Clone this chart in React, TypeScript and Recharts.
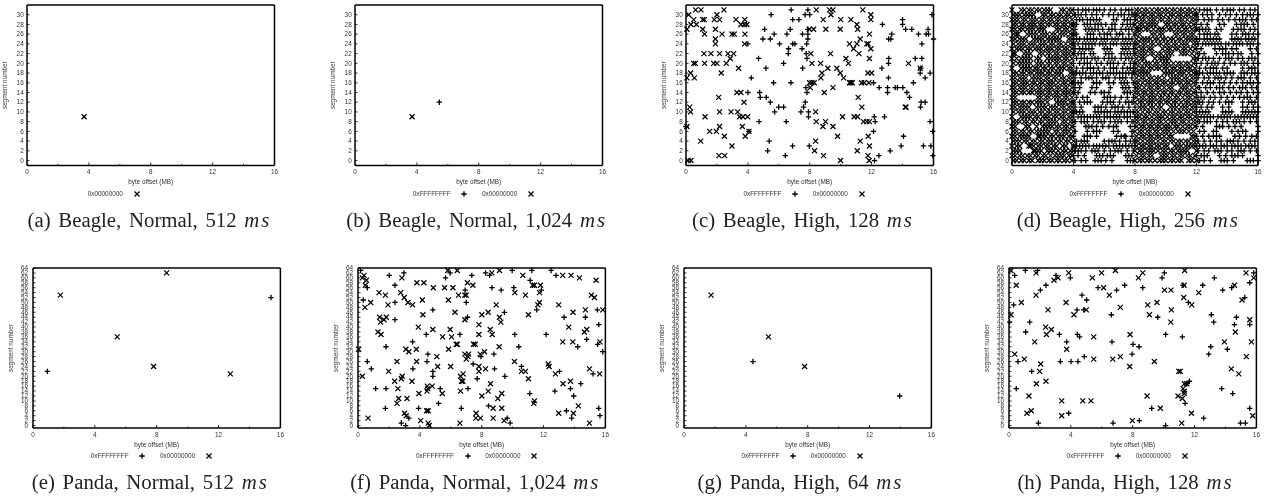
import * as React from 'react';
import { ScatterChart, Scatter, XAxis, YAxis } from 'recharts';

type Pair = [number, number];
type Row = [number, number[]];

const xMajor = [0, 4, 8, 12, 16];
const xTicks = [0, 2, 4, 6, 8, 10, 12, 14, 16];
const beagleTicks = [0, 2, 4, 6, 8, 10, 12, 14, 16, 18, 20, 22, 24, 26, 28, 30];
const pandaTicks = [0, 2, 4, 6, 8, 10, 12, 14, 16, 18, 20, 22, 24, 26, 28, 30, 32, 34, 36, 38, 40, 42, 44, 46, 48, 50, 52, 54, 56, 58, 60, 62, 64];

const aCross: Pair[] = [[3.69, 9]];
const bPlus: Pair[] = [[5.45, 12]];
const bCross: Pair[] = [[3.69, 9]];

// segment number, byte offsets (MB)
const cCross: Row[] = [
  [31, [0.62, 0.97, 2.45, 8.42, 9.28, 9.5, 11.43]],
  [30, [0.17, 2.0, 9.37, 11.95]],
  [29, [0.5, 1.08, 1.18, 1.83, 2.17, 3.23, 3.8, 8.87, 10, 10.66, 11.95]],
  [28, [0.32, 0.67, 3.55, 3.77, 3.94, 11.05]],
  [27, [0.06, 1.08, 1.9, 7.97, 8.25, 9.04, 9.97, 11.1]],
  [26, [1.2, 2.33, 2.97, 3.12, 3.81, 11.86]],
  [25, [1.9, 11.26]],
  [24, [1.9, 3.79, 10.57, 11.05, 11.69, 11.78]],
  [23, [10.83, 11.95]],
  [22, [1.16, 1.61, 2.17, 2.71, 3.08, 8.07, 9.34, 11.18]],
  [21, [2.86, 10.34, 11.86]],
  [20, [0.5, 0.6, 1.2, 1.79, 2.0, 2.6, 8.14, 8.7, 10.5, 14.38]],
  [19, [3.4, 9.17, 9.75, 15.14]],
  [18, [0.3, 2.28, 8.79, 9.97, 11.76, 12]],
  [17, [0.06, 0.54, 8.72, 10.19]],
  [16, [7.99, 8.14, 8.29, 10.57, 10.66, 10.75, 11.35, 11.52, 11.82]],
  [15, [8.03, 9.5]],
  [14, [3.29, 3.55, 8.94]],
  [13, [2.11, 11.13]],
  [12, [3.75]],
  [11, [0.24, 11.37, 14.17, 14.23]],
  [10, [0.3, 2.17, 2.91, 3.34, 8.38]],
  [9, [1.23, 3.47, 3.68, 3.98, 10.12, 10.87, 11.09]],
  [8, [8.42, 9.02, 11.48, 11.69, 11.86]],
  [7, [0.06, 2.17, 3.64, 8.85, 9.5]],
  [6, [1.53, 1.96, 4.07]],
  [5, [2.48, 3.83, 9.8, 11.78]],
  [4, [0.95, 8.38, 11.26]],
  [3, [2.97, 11.86]],
  [2, [8.31, 11.07]],
  [1, [2.13, 2.5, 8.89, 11.76]],
  [0, [0.13, 0.32, 9.99, 11.84]],
];
const cPlus: Row[] = [
  [31, [6.8, 7.88]],
  [30, [5.5, 7.7, 8.0, 15.9]],
  [29, [6.9, 7.3, 14.0]],
  [28, [12.7, 14]],
  [27, [5.08, 6.74, 7.88, 14.2, 14.6, 15.65]],
  [26, [5.7, 6.52, 7.53, 7.88, 13.3, 15.03, 15.53, 15.68]],
  [25, [4.97, 5.45, 7.88, 13.1, 13.24, 16]],
  [24, [4.0, 6.05, 6.9, 7.04, 7.8, 15.25]],
  [23, [6.63, 7.5]],
  [22, [6.61, 7.77]],
  [21, [4.69, 7.82, 13.11, 14.82, 15.25]],
  [20, [6.31, 13.09]],
  [19, [5.17, 7.54, 12.66, 15.18]],
  [18, [15.14, 15.78]],
  [17, [4.22, 13.09, 15.46]],
  [16, [5.66, 6.78, 12.12, 14.7]],
  [15, [7.75, 12.49, 13.03, 13.52, 13.67, 14.02]],
  [14, [4.0, 4.76, 7.82, 13.03, 14.28]],
  [13, [4.8, 5.19, 14.45]],
  [12, [5.45, 7.71, 15.2, 15.46]],
  [11, [5.99, 6.31, 7.6, 15.16]],
  [10, [5.73, 7.43, 7.92]],
  [9, [7.92, 12.17, 12.83]],
  [8, [4.72, 6.48, 12.23, 15.78]],
  [7, [0]],
  [6, [12.12, 15.95, 4.07]],
  [5, [14.06]],
  [4, [5.38]],
  [3, [6.89, 7.97, 13.91, 15.35, 15.83]],
  [2, [5.28, 13.2]],
  [1, [6.42, 12.47, 15.96]],
  [0, [12.19]],
];

// segment number, byte offsets in tenths of a MB (too dense to read any finer)
const dCross: Row[] = [
  [31, [0, 6, 8, 11, 13, 16, 18, 21, 23, 25, 32, 34, 37, 39, 81, 83, 86, 88, 91, 94, 96, 99, 101, 104, 106, 109, 111, 114, 116, 119]],
  [30, [1, 3, 5, 8, 10, 12, 14, 20, 22, 25, 27, 30, 32, 35, 37, 40, 80, 82, 85, 87, 90, 92, 95, 97, 100, 103, 105, 108, 110, 113, 115, 118, 120]],
  [29, [0, 2, 4, 7, 9, 12, 14, 16, 19, 21, 24, 26, 29, 31, 34, 36, 39, 81, 84, 86, 89, 91, 93, 96, 98, 101, 103, 106, 109, 111, 114, 117, 119]],
  [28, [1, 3, 6, 8, 11, 13, 15, 18, 20, 23, 25, 28, 30, 33, 35, 38, 40, 80, 83, 85, 88, 90, 92, 94, 100, 102, 105, 107, 110, 112, 115, 118]],
  [27, [0, 2, 5, 7, 10, 12, 14, 17, 19, 21, 29, 31, 34, 36, 39, 81, 82, 84, 87, 89, 92, 95, 97, 99, 102, 104, 107, 109, 112, 114, 117, 120]],
  [26, [1, 3, 4, 10, 12, 14, 16, 19, 21, 23, 26, 28, 31, 33, 35, 38, 40, 80, 83, 91, 93, 96, 98, 106, 108, 111, 113, 116, 118]],
  [25, [0, 2, 5, 7, 9, 14, 16, 18, 20, 23, 25, 27, 29, 31, 37, 39, 81, 84, 86, 88, 90, 93, 95, 98, 100, 103, 105, 108, 110, 113, 115, 117, 119]],
  [24, [1, 4, 6, 8, 11, 13, 15, 18, 20, 22, 25, 27, 30, 32, 35, 38, 40, 80, 82, 85, 87, 90, 92, 95, 97, 100, 102, 105, 107, 110, 112, 114, 118, 120]],
  [23, [0, 3, 5, 7, 10, 12, 15, 17, 19, 22, 24, 26, 29, 31, 34, 36, 39, 81, 84, 86, 89, 91, 98, 101, 103, 106, 108, 111, 113, 116, 119]],
  [22, [1, 2, 8, 10, 12, 18, 20, 23, 25, 28, 30, 33, 35, 37, 40, 80, 83, 85, 87, 90, 92, 95, 97, 100, 102, 104, 110, 112, 114, 117, 120]],
  [21, [0, 3, 6, 8, 10, 12, 16, 18, 23, 25, 27, 29, 31, 34, 36, 39, 81, 84, 86, 93, 96, 98, 100, 102, 118, 120]],
  [20, [1, 4, 6, 8, 10, 12, 16, 18, 20, 23, 25, 28, 30, 33, 35, 38, 80, 83, 86, 88, 90, 93, 95, 98, 100, 102, 105, 108, 110, 113, 115, 118]],
  [19, [0, 6, 8, 10, 12, 15, 17, 20, 22, 25, 27, 30, 32, 34, 37, 39, 81, 84, 86, 89, 91, 94, 96, 99, 101, 104, 106, 109, 111, 114, 116, 119]],
  [18, [1, 3, 6, 8, 11, 13, 16, 18, 20, 23, 25, 28, 30, 32, 38, 40, 80, 83, 85, 87, 89, 99, 101, 103, 105, 108, 110, 112, 115, 118, 120]],
  [17, [0, 2, 5, 7, 9, 13, 15, 17, 19, 22, 24, 27, 29, 32, 34, 37, 39, 81, 84, 86, 89, 91, 94, 96, 99, 103, 105, 107, 109, 112, 114, 117, 119]],
  [16, [1, 3, 6, 8, 10, 13, 15, 18, 20, 23, 25, 27, 30, 33, 35, 38, 40, 80, 82, 85, 88, 90, 93, 95, 98, 100, 103, 105, 108, 110, 113, 115, 118]],
  [15, [0, 2, 5, 7, 9, 12, 14, 17, 19, 22, 24, 26, 29, 31, 34, 36, 39, 81, 83, 86, 89, 91, 94, 96, 99, 102, 104, 110, 112, 114, 117, 120]],
  [14, [1, 3, 6, 8, 11, 13, 16, 18, 20, 23, 25, 28, 30, 33, 35, 37, 40, 80, 82, 85, 87, 90, 92, 95, 98, 100, 103, 105, 108, 110, 113, 115, 118]],
  [13, [0, 2, 17, 19, 22, 24, 27, 29, 31, 34, 36, 39, 81, 84, 86, 89, 91, 93, 96, 98, 101, 103, 106, 108, 111, 114, 116, 119]],
  [12, [1, 3, 6, 8, 11, 13, 16, 18, 20, 23, 29, 31, 33, 35, 38, 40, 80, 83, 85, 88, 90, 92, 95, 97, 100, 102, 105, 107, 110, 113, 115, 118, 120]],
  [11, [0, 2, 5, 7, 9, 11, 16, 18, 20, 22, 25, 27, 29, 32, 34, 37, 39, 83, 85, 87, 90, 92, 95, 97, 103, 105, 107, 110, 112, 114, 117, 119]],
  [10, [1, 4, 6, 8, 11, 13, 15, 18, 20, 23, 25, 28, 30, 33, 35, 38, 40, 80, 82, 85, 88, 90, 93, 95, 98, 100, 103, 105, 108, 110, 113, 115, 118]],
  [9, [0, 6, 8, 10, 12, 15, 17, 20, 22, 24, 27, 29, 32, 34, 37, 39, 81, 83, 86, 88, 91, 94, 96, 98, 101, 104, 106, 109, 111, 114, 116, 119]],
  [8, [1, 3, 5, 8, 10, 13, 15, 18, 20, 23, 25, 27, 29, 33, 35, 38, 40, 80, 82, 85, 87, 90, 92, 95, 97, 100, 103, 105, 107, 110, 112, 115, 118, 120]],
  [7, [0, 2, 9, 11, 16, 20, 22, 24, 26, 29, 31, 34, 36, 39, 81, 84, 86, 89, 91, 94, 96, 99, 101, 103, 106, 108, 111, 114, 116, 119]],
  [6, [1, 3, 6, 8, 11, 13, 16, 18, 20, 22, 24, 28, 30, 33, 35, 37, 40, 80, 83, 85, 88, 90, 93, 95, 98, 100, 102, 105, 108, 110, 112, 115, 118]],
  [5, [0, 2, 5, 7, 9, 11, 17, 18, 20, 22, 25, 27, 30, 32, 34, 37, 39, 81, 84, 86, 89, 91, 94, 96, 99, 102, 104, 117, 119]],
  [4, [1, 3, 5, 8, 10, 13, 15, 18, 20, 23, 25, 27, 30, 32, 35, 37, 40, 80, 82, 85, 88, 90, 92, 95, 98, 100, 103, 105, 108, 110, 113, 115, 118, 120]],
  [3, [0, 3, 5, 11, 12, 14, 17, 19, 22, 24, 27, 29, 33, 35, 40, 81, 84, 86, 89, 91, 94, 96, 99, 101, 106, 108, 110, 113, 115, 117, 119]],
  [2, [1, 3, 5, 14, 15, 17, 19, 23, 25, 27, 30, 33, 35, 38, 40, 80, 83, 85, 88, 90, 92, 95, 98, 100, 103, 105, 108, 110, 112, 114, 120]],
  [1, [0, 2, 5, 7, 10, 12, 15, 17, 20, 22, 25, 28, 30, 32, 34, 37, 39, 81, 84, 86, 89, 91, 97, 99, 101, 104, 106, 109, 111, 114, 116, 119]],
  [0, [1, 3, 6, 8, 11, 13, 17, 19, 21, 24, 26, 29, 31, 34, 36, 39, 80, 83, 85, 88, 90, 93, 96, 98, 100, 103, 105, 108, 110, 115, 117, 120]],
];
const dPlus: Row[] = [
  [31, [40, 43, 46, 48, 50, 53, 55, 57, 60, 64, 67, 71, 74, 76, 78, 122, 125, 127, 129, 133, 137, 140, 142, 144, 148, 151, 155, 158]],
  [30, [41, 43, 45, 48, 52, 55, 59, 63, 66, 69, 71, 73, 76, 78, 80, 120, 124, 127, 130, 135, 139, 142, 146, 150, 153, 155, 157, 160]],
  [29, [42, 44, 46, 49, 51, 53, 55, 57, 66, 68, 73, 75, 77, 80, 121, 125, 128, 130, 134, 137, 141, 145, 148, 150, 152, 156, 159]],
  [28, [40, 42, 47, 49, 51, 54, 56, 58, 61, 65, 67, 72, 75, 77, 79, 120, 123, 127, 135, 138, 146, 149, 151, 153, 157]],
  [27, [41, 48, 50, 52, 54, 56, 59, 63, 65, 67, 71, 74, 76, 78, 120, 122, 124, 126, 128, 133, 136, 144, 147, 149, 151, 155, 158]],
  [26, [40, 42, 49, 51, 53, 57, 60, 62, 64, 68, 70, 72, 76, 80, 122, 125, 127, 129, 132, 134, 143, 146, 150, 152, 154, 157, 160]],
  [25, [40, 42, 44, 47, 49, 51, 53, 55, 58, 60, 62, 65, 67, 69, 72, 74, 76, 78, 120, 122, 125, 127, 129, 131, 133, 135, 143, 145, 147, 149, 152, 154, 156, 158]],
  [24, [40, 43, 46, 48, 50, 52, 54, 57, 59, 61, 64, 66, 68, 71, 73, 75, 77, 80, 121, 124, 126, 128, 130, 132, 134, 136, 139, 141, 144, 146, 148, 150, 153, 155, 157, 160]],
  [23, [41, 44, 46, 48, 50, 52, 60, 62, 64, 72, 74, 76, 79, 120, 123, 132, 135, 137, 139, 143, 146, 155, 159]],
  [22, [40, 43, 45, 47, 51, 53, 61, 63, 65, 71, 73, 75, 77, 80, 122, 125, 133, 137, 139, 141, 144, 147, 149, 156, 160]],
  [21, [42, 45, 47, 49, 52, 54, 56, 60, 63, 65, 67, 71, 74, 76, 78, 121, 124, 126, 128, 131, 135, 139, 141, 143, 147, 150, 154, 156, 158]],
  [20, [40, 44, 47, 49, 51, 55, 58, 62, 64, 66, 69, 73, 77, 80, 120, 123, 127, 130, 132, 134, 138, 142, 145, 149, 151, 153, 157, 160]],
  [19, [42, 46, 49, 51, 53, 56, 60, 64, 66, 68, 72, 75, 77, 79, 122, 126, 129, 131, 133, 137, 140, 150, 154, 156, 158]],
  [18, [40, 42, 44, 46, 48, 51, 53, 55, 57, 59, 62, 64, 66, 68, 70, 72, 74, 76, 78, 80, 120, 122, 124, 127, 129, 131, 133, 135, 138, 140, 142, 144, 149, 151, 153, 156, 158, 160]],
  [17, [41, 45, 48, 50, 52, 55, 59, 61, 63, 67, 70, 72, 74, 78, 121, 125, 128, 132, 134, 136, 139, 143, 147, 149, 151, 155, 159]],
  [16, [40, 43, 45, 53, 55, 57, 63, 66, 71, 73, 75, 79, 120, 124, 127, 129, 131, 135, 138, 142, 146, 150, 153, 155, 157, 160]],
  [15, [41, 44, 52, 55, 64, 72, 74, 76, 80, 122, 126, 129, 133, 135, 137, 141, 144, 148, 150, 152, 156, 159]],
  [14, [40, 43, 51, 54, 58, 60, 63, 73, 75, 77, 120, 123, 127, 131, 135, 138, 142, 146, 149, 153, 157, 160]],
  [13, [42, 46, 49, 60, 62, 64, 67, 71, 75, 79, 121, 123, 125, 129, 132, 136, 140, 144, 148, 151, 153, 155, 159]],
  [12, [40, 44, 47, 49, 51, 59, 62, 64, 66, 70, 74, 76, 78, 122, 124, 128, 131, 135, 139, 141, 143, 150, 154, 156, 158]],
  [11, [41, 45, 54, 56, 58, 61, 65, 67, 69, 72, 76, 80, 120, 123, 127, 130, 137, 141, 150, 153, 157, 160]],
  [10, [40, 42, 44, 46, 54, 56, 58, 60, 62, 64, 67, 69, 71, 73, 75, 77, 79, 120, 122, 124, 126, 128, 137, 139, 141, 143, 150, 152, 154, 156, 158, 160]],
  [9, [40, 43, 45, 47, 49, 51, 53, 55, 57, 60, 62, 64, 66, 68, 70, 73, 75, 77, 80, 121, 123, 125, 127, 129, 131, 134, 136, 138, 140, 142, 145, 147, 149, 151, 153, 155, 157, 159]],
  [8, [41, 45, 47, 49, 53, 56, 58, 60, 64, 67, 69, 71, 75, 78, 122, 125, 127, 129, 133, 137, 140, 144, 146, 148, 151, 155, 159]],
  [7, [40, 48, 50, 52, 55, 59, 63, 66, 68, 77, 80, 120, 124, 133, 135, 137, 141, 145, 149, 160]],
  [6, [41, 49, 53, 55, 57, 66, 69, 78, 122, 125, 131, 133, 143, 147, 150, 152, 160]],
  [5, [40, 47, 49, 51, 55, 68, 71, 73, 74, 78, 120, 124, 128, 131, 133, 135, 145, 148, 152, 156, 159]],
  [4, [42, 45, 47, 49, 60, 63, 65, 67, 70, 74, 77, 80, 121, 125, 129, 133, 136, 140, 142, 144, 147, 151, 155, 158]],
  [3, [40, 42, 44, 46, 48, 50, 53, 55, 57, 59, 61, 63, 66, 68, 70, 72, 74, 76, 78, 80, 120, 122, 124, 126, 129, 131, 133, 136, 138, 140, 143, 145, 147, 149, 152, 154, 156, 158]],
  [2, [41, 43, 45, 48, 52, 54, 56, 60, 64, 67, 69, 71, 75, 79, 121, 125, 128, 132, 134, 136, 140, 143, 147, 149, 151, 155, 159]],
  [1, [40, 43, 47, 55, 57, 59, 62, 64, 66, 74, 76, 78, 120, 123, 125, 127, 135, 139, 143, 145, 147, 150, 160]],
  [0, [41, 45, 48, 54, 56, 58, 61, 65, 75, 77, 79, 122, 125, 129, 136, 138, 140, 144, 153, 155, 157, 160]],
];

const ePlus: Pair[] = [[0.93, 22], [15.39, 52]];
const eCross: Pair[] = [[1.77, 53], [8.64, 62], [5.45, 36], [7.8, 24], [12.76, 21]];

const fPlus: Pair[] = [
  [0.17, 63], [2.97, 62], [2.02, 61], [5.66, 60], [5.96, 62], [7.36, 61], [8.25, 62], [8.51, 61], [9.97, 63], [11.24, 63],
  [12.49, 63], [12.81, 61], [2.39, 57], [0.6, 56], [8.66, 56], [9.26, 55], [10.08, 56], [11.13, 59], [11.86, 55], [6.93, 55],
  [0.34, 51], [2.39, 50], [7.0, 50], [11.56, 47], [4.84, 47], [9.47, 46], [7.08, 44], [2.39, 43], [13.33, 44], [14.71, 44],
  [15.48, 47], [15.57, 41], [4.41, 37], [6.59, 37], [10.14, 37], [12.17, 37], [14.79, 35], [3.53, 34], [1.81, 32], [15.5, 33],
  [10.4, 32], [14.21, 32], [4.52, 29], [8.79, 29], [7.95, 28], [15.83, 30], [0.6, 26], [4.46, 26], [0.86, 23], [7.45, 25],
  [8.83, 23], [3.55, 23], [10.57, 24], [4.84, 22], [4.84, 20], [15.2, 21], [9.5, 20], [13.03, 22], [7.71, 19], [1.14, 15],
  [1.81, 15], [5.32, 15], [7.11, 15], [14.41, 17], [12.73, 14], [11.11, 13], [13.74, 15], [13.95, 12], [5.21, 9], [8.44, 8],
  [1.77, 7], [3.92, 7], [6.68, 7], [15.57, 7], [13.48, 6], [15.65, 4], [13.82, 3], [2.8, 1], [3.08, 0], [9.84, 1],
  [3.29, 3], [9.65, 3],
];
const fCross: Pair[] = [
  [5.81, 63], [6.42, 63], [8.66, 62], [9.15, 63], [2.84, 60], [0.39, 61], [0.28, 60], [0.54, 59], [0.47, 57], [3.81, 58],
  [4.26, 58], [4.87, 56], [5.6, 56], [6.14, 56], [7.08, 58], [7.43, 57], [10.66, 61], [13.24, 61], [13.78, 61], [14.32, 60],
  [15.4, 59], [11.3, 57], [11.41, 57], [11.8, 57], [11.74, 54], [1.36, 54], [1.77, 53], [2.76, 54], [2.99, 52], [3.23, 50],
  [3.53, 49], [4.16, 51], [5.84, 51], [6.5, 53], [6.91, 53], [7.0, 53], [10.14, 54], [10.83, 53], [15.09, 53], [15.29, 52],
  [0.82, 50], [0.45, 48], [1.94, 49], [6.27, 46], [11.74, 50], [11.63, 49], [12.98, 49], [8.94, 49], [8.42, 46], [8.01, 45],
  [9.15, 44], [9.24, 42], [11.02, 45], [13.91, 46], [14.71, 47], [15.83, 47], [1.4, 44], [1.83, 44], [1.46, 42], [1.68, 43],
  [4.2, 45], [6.91, 43], [3.9, 40], [4.84, 39], [5.96, 39], [8.55, 39], [7.82, 41], [13.63, 40], [14.64, 38], [14.79, 39],
  [1.29, 38], [1.49, 37], [5.47, 36], [6.05, 36], [7.82, 37], [8.68, 37], [13.24, 34], [13.89, 34], [15.65, 34], [0.04, 31],
  [3.1, 31], [3.29, 30], [3.77, 31], [5.86, 31], [6.35, 33], [6.42, 33], [7.47, 33], [7.58, 33], [9.13, 32], [8.18, 30],
  [7.9, 29], [6.91, 29], [7.15, 29], [7.11, 28], [7.0, 27], [5.1, 28], [2.52, 26], [3.79, 26], [10.12, 26], [12.3, 25],
  [12.36, 24], [5.15, 24], [5.99, 24], [7.82, 24], [8.25, 23], [7.82, 22], [10.57, 22], [10.83, 22], [14.97, 23], [15.63, 21],
  [12.77, 21], [6.8, 21], [6.63, 20], [1.98, 22], [2.86, 20], [2.8, 19], [2.37, 18], [3.49, 18], [0.28, 20], [6.7, 18],
  [6.78, 18], [11.02, 19], [8.57, 17], [13.26, 17], [13.74, 18], [2.58, 15], [4.48, 16], [4.8, 16], [4.52, 15], [4.46, 14],
  [8.42, 14], [3.94, 13], [5.45, 13], [6.63, 14], [8.01, 12], [9.3, 13], [9.04, 11], [2.63, 11], [3.17, 11], [2.52, 9],
  [11.41, 10], [11.37, 9], [14.25, 8], [9.3, 7], [8.74, 7], [4.44, 6], [4.54, 6], [7.64, 5], [3.01, 5], [3.12, 4],
  [12.98, 5], [13.93, 5], [0.65, 3], [7.62, 3], [7.92, 3], [8.74, 3], [9.45, 2], [6.59, 1], [4.05, 2], [4.54, 1],
  [4.61, 0], [14.97, 1],
];

const gPlus: Pair[] = [[4.46, 26], [13.95, 12]];
const gCross: Pair[] = [[1.75, 53], [5.46, 36], [7.8, 24]];

const hPlus: Pair[] = [
  [1.06, 63], [1.85, 63], [0.37, 61], [3.04, 61], [3.97, 60], [15.83, 62], [10.05, 62], [9.9, 60], [13.28, 60], [15.57, 58],
  [2.39, 57], [2.03, 55], [5.76, 56], [7.48, 57], [6.96, 55], [8.65, 56], [12.53, 57], [11.26, 57], [13.82, 55], [14.4, 56],
  [4.72, 53], [5.02, 51], [0.3, 49], [15.25, 52], [11.6, 50], [4.4, 47], [4.83, 47], [6.62, 45], [9.62, 44], [13.09, 45],
  [14.71, 44], [1.34, 42], [13.24, 42], [15.57, 41], [14.58, 41], [0.04, 42], [1.08, 38], [3.26, 37], [4.42, 37], [4.57, 36],
  [3.73, 34], [6.66, 34], [8.02, 33], [8.41, 32], [11.21, 36], [10.13, 37], [13.05, 32], [14.12, 31], [12.92, 29], [7.96, 29],
  [4.87, 28], [0.58, 26], [3.32, 26], [4.01, 26], [4.46, 26], [1.47, 22], [0.47, 15], [13.76, 15], [14.47, 13], [11.39, 9],
  [3.86, 5], [9.23, 7], [15.57, 7], [8.43, 2], [12.59, 3], [1.9, 1], [6.73, 1], [10.13, 0], [14.97, 1], [15.29, 1],
  [11.67, 18], [11.51, 17],
];
const hCross: Pair[] = [
  [0.13, 63], [1.75, 62], [3.86, 62], [5.99, 62], [6.88, 63], [8.65, 62], [8.37, 60], [11.36, 63], [15.33, 62], [15.83, 60],
  [5.39, 60], [3.17, 60], [2.91, 59], [0.47, 57], [6.12, 56], [11.32, 57], [10.05, 55], [10.48, 55], [12.27, 54], [14.58, 57],
  [6.49, 53], [1.75, 53], [11.3, 52], [9.57, 50], [8.97, 49], [0.8, 50], [3.69, 50], [11.82, 49], [15.07, 51], [7.2, 48],
  [2.52, 47], [5.0, 47], [10.5, 47], [4.2, 45], [9.08, 45], [0.13, 45], [10.46, 42], [15.57, 43], [2.37, 40], [2.74, 39],
  [2.42, 37], [14.64, 38], [5.48, 36], [7.83, 37], [1.66, 34], [13.93, 34], [15.68, 34], [3.73, 31], [0.37, 29], [0.99, 27],
  [5.48, 27], [6.71, 27], [7.2, 28], [15.35, 28], [2.05, 25], [9.4, 26], [7.81, 24], [14.38, 23], [1.98, 22], [10.98, 22],
  [11.08, 22], [14.86, 21], [2.39, 18], [1.77, 17], [11.34, 17], [11.26, 15], [11.34, 14], [1.29, 12], [8.93, 12], [10.93, 12],
  [11.34, 13], [11.21, 11], [3.41, 10], [4.77, 10], [5.3, 10], [9.79, 7], [1.44, 6], [1.16, 5], [3.41, 4], [11.8, 5],
  [15.76, 4], [7.98, 2], [11.17, 1], [11.5, 17],
];

const INK = '#000';
const TEXT = '#333';
const SANS = '"Liberation Sans", Arial, sans-serif';
const SERIF = '"Liberation Serif", "Times New Roman", serif';
const TICK_FONT = 6.4;
const AXIS_LINE = { stroke: INK, strokeWidth: 1.5 };

const fromPairs = (rows: Pair[]) => rows.map(([x, y]) => ({ x, y }));
const fromRows = (rows: Row[], unit = 1) => rows.flatMap(([y, xs]) => xs.map((x) => ({ x: x * unit, y })));

const PlusMark = ({ cx, cy }: any) => (
  <path d={`M${cx - 2.7} ${cy}H${cx + 2.7}M${cx} ${cy - 2.7}V${cy + 2.7}`} stroke={INK} strokeWidth={1.3} fill="none" />
);
const CrossMark = ({ cx, cy }: any) => (
  <path d={`M${cx - 2.5} ${cy - 2.5}L${cx + 2.5} ${cy + 2.5}M${cx - 2.5} ${cy + 2.5}L${cx + 2.5} ${cy - 2.5}`} stroke={INK} strokeWidth={1.25} fill="none" />
);

const BottomTick = ({ x, y, payload }: any) => {
  const major = xMajor.includes(payload.value);
  return (
    <g>
      <line x1={x} x2={x} y1={y} y2={y - (major ? 3 : 1.5)} stroke={INK} strokeWidth={0.8} />
      {major && (
        <text x={x} y={y + 8.8} textAnchor="middle" fontSize={TICK_FONT} fill={TEXT} fontFamily={SANS}>
          {payload.value}
        </text>
      )}
    </g>
  );
};
const TopTick = ({ x, y, payload }: any) => (
  <line x1={x} x2={x} y1={y} y2={y + (xMajor.includes(payload.value) ? 3 : 1.5)} stroke={INK} strokeWidth={0.8} />
);
const LeftTick = ({ x, y, payload, gap }: any) => (
  <g>
    <line x1={x} x2={x + 2.5} y1={y} y2={y} stroke={INK} strokeWidth={0.8} />
    <text x={x - gap} y={y + 2.2} textAnchor="end" fontSize={TICK_FONT} fill={TEXT} fontFamily={SANS}>
      {payload.value}
    </text>
  </g>
);
const RightTick = ({ x, y }: any) => <line x1={x} x2={x - 2.5} y1={y} y2={y} stroke={INK} strokeWidth={0.8} />;

const GUTTER_L = 30;
const GUTTER_B = 30;
const PAD = 6;

type PanelProps = {
  left: number;
  top: number;
  plotW: number;
  plotH: number;
  yDomain: number[];
  yTicks: number[];
  tickGap: number;
  plus?: { x: number; y: number }[];
  cross: { x: number; y: number }[];
  legendY: number;
  caption: string;
  captionX: number;
  captionY: number;
};

function LegendMark({ x, y, kind }: { x: number; y: number; kind: 'plus' | 'cross' }) {
  return (
    <svg style={{ position: 'absolute', left: x - 4, top: y - 4 }} width={8} height={8}>
      {kind === 'plus' ? <PlusMark cx={4} cy={4} /> : <CrossMark cx={4} cy={4} />}
    </svg>
  );
}

function LegendText({ x, y, children }: { x: number; y: number; children: string }) {
  return (
    <div style={{ position: 'absolute', left: x, top: y - 4, fontFamily: SANS, fontSize: TICK_FONT, lineHeight: '8px', color: TEXT, whiteSpace: 'nowrap' }}>
      {children}
    </div>
  );
}

function Panel({ left, top, plotW, plotH, yDomain, yTicks, tickGap, plus, cross, legendY, caption, captionX, captionY }: PanelProps) {
  return (
    <>
      <div style={{ position: 'absolute', left: left - GUTTER_L, top: top - PAD }}>
        <ScatterChart
          width={GUTTER_L + plotW + PAD}
          height={PAD + plotH + GUTTER_B}
          margin={{ top: PAD - 1, right: PAD - 1, bottom: 0, left: 0 }}
        >
          <XAxis
            xAxisId="b"
            type="number"
            dataKey="x"
            domain={[0, 16]}
            ticks={xTicks}
            interval={0}
            height={GUTTER_B}
            tickSize={0}
            tickMargin={0}
            tickLine={false}
            axisLine={AXIS_LINE}
            tick={<BottomTick />}
            label={{ value: 'byte offset (MB)', position: 'insideTop', offset: 14.5, fontSize: TICK_FONT, fill: TEXT, fontFamily: SANS }}
          />
          <XAxis
            xAxisId="t"
            orientation="top"
            type="number"
            domain={[0, 16]}
            ticks={xTicks}
            interval={0}
            height={1}
            tickSize={0}
            tickMargin={0}
            tickLine={false}
            axisLine={AXIS_LINE}
            tick={<TopTick />}
          />
          <YAxis
            yAxisId="l"
            type="number"
            dataKey="y"
            domain={yDomain}
            ticks={yTicks}
            interval={0}
            width={GUTTER_L}
            tickSize={0}
            tickMargin={0}
            tickLine={false}
            axisLine={AXIS_LINE}
            tick={<LeftTick gap={tickGap} />}
            label={{ value: 'segment number', angle: -90, position: 'center', dx: 8 - GUTTER_L / 2, dy: 0, fontSize: TICK_FONT, fill: TEXT, fontFamily: SANS }}
          />
          <YAxis
            yAxisId="r"
            orientation="right"
            type="number"
            domain={yDomain}
            ticks={yTicks}
            interval={0}
            width={1}
            tickSize={0}
            tickMargin={0}
            tickLine={false}
            axisLine={AXIS_LINE}
            tick={<RightTick />}
          />
          {plus && <Scatter name="0xFFFFFFFF" xAxisId="b" yAxisId="l" data={plus} shape={<PlusMark />} isAnimationActive={false} />}
          <Scatter name="0x00000000" xAxisId="b" yAxisId="l" data={cross} shape={<CrossMark />} isAnimationActive={false} />
        </ScatterChart>
      </div>
      {plus ? (
        <>
          <LegendText x={left + 57.7} y={legendY}>0xFFFFFFFF</LegendText>
          <LegendMark x={left + 109.3} y={legendY} kind="plus" />
          <LegendText x={left + 127} y={legendY}>0x00000000</LegendText>
          <LegendMark x={left + 176} y={legendY} kind="cross" />
        </>
      ) : (
        <>
          <LegendText x={left + 60.4} y={legendY}>0x00000000</LegendText>
          <LegendMark x={left + 109.7} y={legendY} kind="cross" />
        </>
      )}
      <div
        style={{
          position: 'absolute',
          left: captionX - 150,
          width: 300,
          top: captionY - 12,
          lineHeight: '24px',
          textAlign: 'center',
          fontFamily: SERIF,
          fontSize: 20.8,
          wordSpacing: 2.5,
          color: '#222',
          whiteSpace: 'nowrap',
        }}
      >
        {caption} <i style={{ letterSpacing: 2 }}>ms</i>
      </div>
    </>
  );
}

const beagle = { plotW: 247.5, plotH: 160.4, top: 5.3, yDomain: [-1, 32], yTicks: beagleTicks, tickGap: 3.3, legendY: 193.7, captionY: 220 };
const panda = { plotW: 247.4, plotH: 160, top: 268, yDomain: [-1, 64], yTicks: pandaTicks, tickGap: 5, legendY: 456, captionY: 482.3 };

export default function App() {
  return (
    <div style={{ position: 'absolute', left: 0, top: 0, width: 1267, height: 498, background: '#fff', overflow: 'hidden', filter: 'blur(0.45px)' }}>
      <Panel {...beagle} left={27.3} cross={fromPairs(aCross)} caption="(a) Beagle, Normal, 512" captionX={149.5} />
      <Panel {...beagle} left={355} plus={fromPairs(bPlus)} cross={fromPairs(bCross)} caption="(b) Beagle, Normal, 1,024" captionX={476.7} />
      <Panel {...beagle} left={685.7} plus={fromRows(cPlus)} cross={fromRows(cCross)} caption="(c) Beagle, High, 128" captionX={803} />
      <Panel {...beagle} left={1011.7} plotW={246} plus={fromRows(dPlus, 0.1)} cross={fromRows(dCross, 0.1)} caption="(d) Beagle, High, 256" captionX={1128.3} />
      <Panel {...panda} left={33} plus={fromPairs(ePlus)} cross={fromPairs(eCross)} caption="(e) Panda, Normal, 512" captionX={150.3} />
      <Panel {...panda} left={358.3} plus={fromPairs(fPlus)} cross={fromPairs(fCross)} caption="(f) Panda, Normal, 1,024" captionX={475.3} />
      <Panel {...panda} left={683.7} plus={fromPairs(gPlus)} cross={fromPairs(gCross)} caption="(g) Panda, High, 64" captionX={800.5} />
      <Panel {...panda} left={1008.7} plus={fromPairs(hPlus)} cross={fromPairs(hCross)} caption="(h) Panda, High, 128" captionX={1125.5} />
    </div>
  );
}
